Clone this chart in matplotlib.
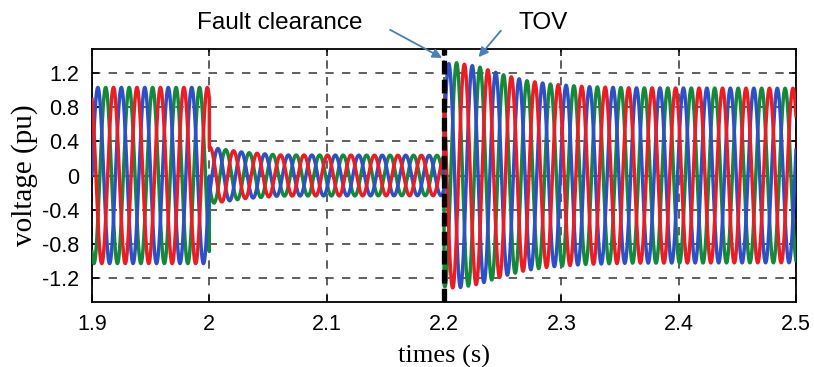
import numpy as np
import matplotlib
matplotlib.use("Agg")
import matplotlib.pyplot as plt

# ---- data ----
freq_hz = 50.0
t_start, t_fault, t_clear, t_end = 1.9, 2.0, 2.2, 2.5

# envelope (time, peak amplitude in pu) for each stage
pre_env_t = [1.9, 2.0]
pre_env_a = [1.03, 1.03]
fault_env_t = [2.0, 2.01, 2.03, 2.06, 2.2]
fault_env_a = [0.33, 0.31, 0.27, 0.24, 0.235]
post_env_t = [2.2, 2.21, 2.23, 2.25, 2.27, 2.29, 2.32, 2.36, 2.5]
post_env_a = [1.30, 1.32, 1.27, 1.18, 1.11, 1.07, 1.04, 1.025, 1.02]

# time of a red-phase peak in each stage (sets the phase)
pre_red_peak = 1.99833
fault_red_peak = 2.0007
post_red_peak = 2.2174

phase_names = ["red", "blue", "green"]
phase_shift_deg = [0, -120, 120]
phase_colors = {"red": "#ec1c24", "blue": "#2f4fc6", "green": "#13893b"}

yticks = [-1.2, -0.8, -0.4, 0, 0.4, 0.8, 1.2]
ytick_labels = ["-1.2", "-0.8", "-0.4", "0", "0.4", "0.8", "1.2"]
xticks = [1.9, 2.0, 2.1, 2.2, 2.3, 2.4, 2.5]
xtick_labels = ["1.9", "2", "2.1", "2.2", "2.3", "2.4", "2.5"]

# ---- build waveforms ----
t = np.linspace(t_start, t_end, 24001)
w = 2 * np.pi * freq_hz
env = np.where(t < t_fault, np.interp(t, pre_env_t, pre_env_a),
               np.where(t < t_clear, np.interp(t, fault_env_t, fault_env_a),
                        np.interp(t, post_env_t, post_env_a)))
ref = np.where(t < t_fault, pre_red_peak,
               np.where(t < t_clear, fault_red_peak, post_red_peak))
theta = w * (t - ref)

fig = plt.figure(figsize=(8.14, 3.67), dpi=100)
ax = fig.add_axes([92 / 814, 1 - 302 / 367, (796 - 92) / 814, (302 - 49) / 367])

waves = {}
for name, sh in zip(phase_names, phase_shift_deg):
    waves[name] = env * np.cos(theta + np.deg2rad(sh))

for name in ["green", "blue", "red"]:
    ax.plot(t, waves[name], color=phase_colors[name], lw=2.5, zorder=3)

# fault clearance marker
ax.axvline(t_clear, color="black", lw=3.8, ls=(0, (2.6, 1.0)), zorder=4)

ax.set_xlim(t_start, t_end)
ax.set_ylim(-1.48, 1.48)
ax.set_xticks(xticks)
ax.set_xticklabels(xtick_labels)
ax.set_yticks(yticks)
ax.set_yticklabels(ytick_labels)
ax.grid(True, color="#444444", ls=(0, (5, 5)), lw=1.2, zorder=1)
ax.tick_params(direction="in", length=5, width=1.1, top=True, right=True,
               labelsize=15.5, pad=9)
for lab in ax.get_xticklabels() + ax.get_yticklabels():
    lab.set_family("Liberation Sans")
for s in ax.spines.values():
    s.set_linewidth(1.3)

ax.set_xlabel("times (s)", family="Liberation Serif", fontsize=19, labelpad=7)
ax.set_ylabel("voltage (pu)", family="Liberation Serif", fontsize=21, labelpad=3)

# annotations
arrow_c = "#4a7ebb"
fig.text(197 / 814, 1 - 23 / 367, "Fault clearance", family="Liberation Sans",
         fontsize=17.5, ha="left", va="center")
fig.text(543 / 814, 1 - 23 / 367, "TOV", family="Liberation Sans",
         fontsize=17.5, ha="center", va="center")
ax.annotate("", xy=(2.2005, 1.36), xytext=(2.152, 1.72),
            arrowprops=dict(arrowstyle="-|>", color=arrow_c, lw=1.3,
                            mutation_scale=14),
            annotation_clip=False)
ax.annotate("", xy=(2.228, 1.36), xytext=(2.250, 1.72),
            arrowprops=dict(arrowstyle="-|>", color=arrow_c, lw=1.3,
                            mutation_scale=14),
            annotation_clip=False)

fig.savefig("out.png", dpi=100)
